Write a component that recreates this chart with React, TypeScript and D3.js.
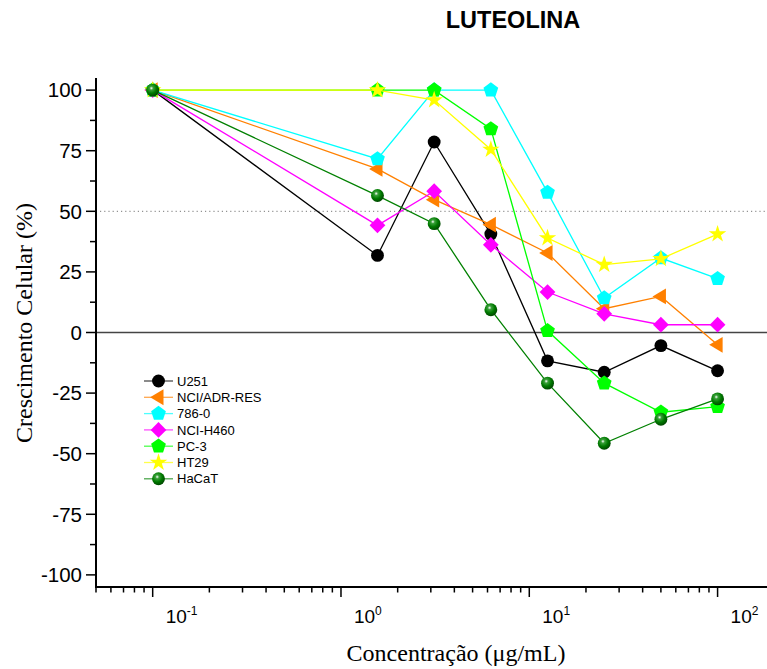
import { useEffect, useRef } from 'react';
import * as d3 from 'd3';

const concentrations = [0.1, 1.5625, 3.125, 6.25, 12.5, 25, 50, 100];

const seriesNames = ['U251', 'NCI/ADR-RES', '786-0', 'NCI-H460', 'PC-3', 'HT29', 'HaCaT'];

const u251 = [100, 31.8, 78.6, 40.6, -11.7, -16.4, -5.4, -15.8];
const nciAdrRes = [100, 67.5, 54.8, 44.5, 32.8, 9.8, 14.9, -5.1];
const c7860 = [100, 71.6, 100, 100, 57.8, 14.2, 30.7, 22.2];
const nciH460 = [100, 44.2, 58.3, 36.2, 16.7, 7.7, 3.2, 3.2];
const pc3 = [100, 100, 100, 84, 0.7, -20.9, -32.9, -30.6];
const ht29 = [100, 100, 95.9, 75.5, 39, 28, 30.4, 40.6];
const hacat = [100, 56.5, 44.9, 9.4, -20.9, -45.7, -35.8, -27.4];

const seriesValues = [u251, nciAdrRes, c7860, nciH460, pc3, ht29, hacat];
const seriesColors = ['#000000', '#FF8000', '#00FFFF', '#FF00FF', '#00FF00', '#FFFF00', '#008000'];
const seriesShapes = ['circle', 'triangleLeft', 'pentagon', 'diamond', 'pentagon', 'star', 'sphere'];

const yTicks = [-100, -75, -50, -25, 0, 25, 50, 75, 100];
const xTickExponents = [-1, 0, 1, 2];

const pentagon = {
  draw(ctx: any, size: number) {
    const r = Math.sqrt(size);
    for (let k = 0; k < 5; k++) {
      const a = -Math.PI / 2 + (k * 2 * Math.PI) / 5;
      if (k === 0) ctx.moveTo(r * Math.cos(a), r * Math.sin(a));
      else ctx.lineTo(r * Math.cos(a), r * Math.sin(a));
    }
    ctx.closePath();
  },
};

const triangleLeft = {
  draw(ctx: any, size: number) {
    const r = Math.sqrt(size);
    ctx.moveTo(-r, 0);
    ctx.lineTo(r * 0.6, -r * 0.95);
    ctx.lineTo(r * 0.6, r * 0.95);
    ctx.closePath();
  },
};

const diamond = {
  draw(ctx: any, size: number) {
    const r = Math.sqrt(size);
    ctx.moveTo(0, -r);
    ctx.lineTo(r, 0);
    ctx.lineTo(0, r);
    ctx.lineTo(-r, 0);
    ctx.closePath();
  },
};

function markerPath(shape: string) {
  if (shape === 'pentagon') return d3.symbol(pentagon, 60)();
  if (shape === 'triangleLeft') return d3.symbol(triangleLeft, 70)();
  if (shape === 'diamond') return d3.symbol(diamond, 62)();
  if (shape === 'star') return d3.symbol(d3.symbolStar, 95)();
  return d3.symbol(d3.symbolCircle, 130)();
}

export default function App() {
  const svgRef = useRef<SVGSVGElement | null>(null);

  useEffect(() => {
    document.body.style.margin = '0';
    if (!svgRef.current) return;
    const svg = d3.select(svgRef.current);
    svg.selectAll('*').remove();

    const width = 767;
    const height = 669;
    svg.attr('width', width).attr('height', height);

    const sans = "'Liberation Sans', Arial, sans-serif";
    const serif = "'Liberation Serif', 'Times New Roman', serif";

    const x = d3.scaleLog().domain([0.05, 183]).range([96, 767]);
    const y = d3.scaleLinear().domain([-105, 105]).range([587, 78]);

    const defs = svg.append('defs');
    const grad = defs
      .append('radialGradient')
      .attr('id', 'sphere')
      .attr('cx', '0.4')
      .attr('cy', '0.35')
      .attr('r', '0.65');
    grad.append('stop').attr('offset', '0').attr('stop-color', '#ffffff');
    grad.append('stop').attr('offset', '0.22').attr('stop-color', '#3aa03a');
    grad.append('stop').attr('offset', '0.6').attr('stop-color', '#007a00');
    grad.append('stop').attr('offset', '1').attr('stop-color', '#004800');

    // Title
    svg
      .append('text')
      .attr('x', 513)
      .attr('y', 28)
      .attr('text-anchor', 'middle')
      .attr('font-family', sans)
      .attr('font-weight', 'bold')
      .attr('font-size', '23.5px')
      .attr('fill', '#000')
      .text('LUTEOLINA');

    // Reference lines
    svg
      .append('line')
      .attr('x1', x(0.05) + 4)
      .attr('x2', width)
      .attr('y1', y(50))
      .attr('y2', y(50))
      .attr('stroke', '#777')
      .attr('stroke-width', 1)
      .attr('stroke-dasharray', '1.2,3');

    svg
      .append('line')
      .attr('x1', x(0.05))
      .attr('x2', width)
      .attr('y1', y(0))
      .attr('y2', y(0))
      .attr('stroke', '#444')
      .attr('stroke-width', 1.4);

    // Axes
    const axisG = svg.append('g');
    axisG
      .append('line')
      .attr('x1', x(0.05))
      .attr('x2', x(0.05))
      .attr('y1', y(105))
      .attr('y2', y(-105) + 1)
      .attr('stroke', '#000')
      .attr('stroke-width', 2);
    axisG
      .append('line')
      .attr('x1', x(0.05) - 1)
      .attr('x2', width)
      .attr('y1', y(-105))
      .attr('y2', y(-105))
      .attr('stroke', '#000')
      .attr('stroke-width', 2);

    const yMinor = d3.range(-100, 100.1, 12.5);
    axisG
      .selectAll('.ytick')
      .data(yMinor)
      .join('line')
      .attr('x1', (d) => x(0.05) - (d % 25 === 0 ? 10 : 6))
      .attr('x2', x(0.05))
      .attr('y1', (d) => y(d))
      .attr('y2', (d) => y(d))
      .attr('stroke', '#000')
      .attr('stroke-width', 1.5);

    axisG
      .selectAll('.ylabel')
      .data(yTicks)
      .join('text')
      .attr('x', 82)
      .attr('y', (d) => y(d))
      .attr('dy', '0.36em')
      .attr('text-anchor', 'end')
      .attr('font-family', sans)
      .attr('font-size', '20.5px')
      .attr('fill', '#000')
      .text((d) => d);

    const xMinor: number[] = [];
    for (let e = -2; e <= 2; e++) {
      for (let m = 1; m <= 9; m++) {
        const v = m * Math.pow(10, e);
        if (v >= 0.05 && v <= 183) xMinor.push(v);
      }
    }
    axisG
      .selectAll('.xtick')
      .data(xMinor)
      .join('line')
      .attr('x1', (d) => x(d))
      .attr('x2', (d) => x(d))
      .attr('y1', y(-105))
      .attr('y2', (d) => y(-105) + (Math.abs(Math.log10(d) - Math.round(Math.log10(d))) < 1e-9 ? 10 : 5.5))
      .attr('stroke', '#000')
      .attr('stroke-width', 1.5);

    const xLabels = axisG
      .selectAll('.xlabel')
      .data(xTickExponents)
      .join('text')
      .attr('x', (d) => x(Math.pow(10, d)) + 13)
      .attr('y', 623)
      .attr('font-family', sans)
      .attr('font-size', '19px')
      .attr('fill', '#000');
    xLabels.append('tspan').text('10');
    xLabels
      .append('tspan')
      .attr('dy', -8)
      .attr('font-size', '12px')
      .text((d) => d);

    // Axis titles
    svg
      .append('text')
      .attr('x', 456)
      .attr('y', 661)
      .attr('text-anchor', 'middle')
      .attr('font-family', serif)
      .attr('font-size', '24px')
      .attr('fill', '#000')
      .text('Concentração (μg/mL)');

    svg
      .append('text')
      .attr('transform', `translate(32, 323) rotate(-90)`)
      .attr('text-anchor', 'middle')
      .attr('font-family', serif)
      .attr('font-size', '24px')
      .attr('fill', '#000')
      .text('Crescimento Celular (%)');

    // Series
    const line = d3
      .line<number>()
      .x((_, i) => x(concentrations[i]))
      .y((d) => y(d));

    const fillFor = (i: number) => (seriesShapes[i] === 'sphere' ? 'url(#sphere)' : seriesColors[i]);

    seriesValues.forEach((vals, i) => {
      const g = svg.append('g');
      g.append('path')
        .attr('d', line(vals))
        .attr('fill', 'none')
        .attr('stroke', seriesColors[i])
        .attr('stroke-width', 1.3);
      g.selectAll('path.mk')
        .data(vals)
        .join('path')
        .attr('class', 'mk')
        .attr('transform', (d, j) => `translate(${x(concentrations[j])},${y(d)})`)
        .attr('d', markerPath(seriesShapes[i]))
        .attr('fill', fillFor(i));
    });

    // Legend
    const legend = svg.append('g').attr('transform', 'translate(144, 381)');
    seriesNames.forEach((name, i) => {
      const row = legend.append('g').attr('transform', `translate(0, ${i * 16.3})`);
      row
        .append('line')
        .attr('x1', 0)
        .attr('x2', 29)
        .attr('stroke', seriesColors[i])
        .attr('stroke-opacity', 0.7)
        .attr('stroke-width', 1.3);
      row
        .append('path')
        .attr('transform', 'translate(14.5,0)')
        .attr('d', markerPath(seriesShapes[i]))
        .attr('fill', fillFor(i));
      row
        .append('text')
        .attr('x', 33)
        .attr('dy', '0.36em')
        .attr('font-family', sans)
        .attr('font-size', '13px')
        .attr('fill', '#000')
        .text(name);
    });
  }, []);

  return <svg ref={svgRef} style={{ display: 'block' }}></svg>;
}
